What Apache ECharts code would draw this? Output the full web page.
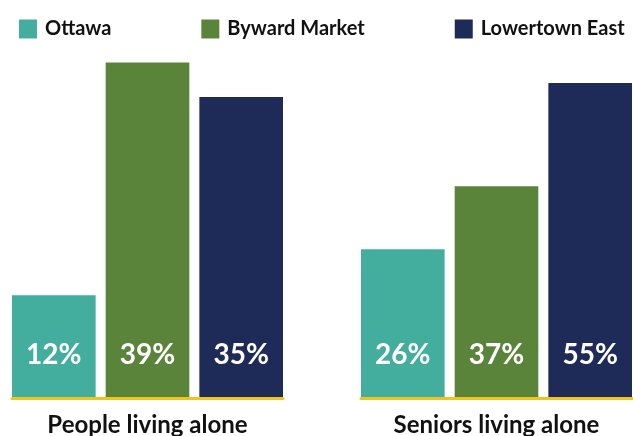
<!DOCTYPE html>
<html>
<head>
<meta charset="utf-8">
<script src="https://cdn.jsdelivr.net/npm/echarts@6/dist/echarts.min.js"></script>
<style>
html,body{margin:0;padding:0;background:#fff;}
#chart{width:633px;height:436px;}
</style>
</head>
<body>
<div id="chart"></div>
<script>
const seriesNames = ['Ottawa', 'Byward Market', 'Lowertown East'];
const groupPeople = ['People living alone'];
const groupSeniors = ['Seniors living alone'];
const peopleValues = [12, 39, 35];
const seniorsValues = [26, 37, 55];
const colors = ['#44ae9e', '#5a843a', '#1e2a57'];

const FONT = 'Lato';
const chart = echarts.init(document.getElementById('chart'));

const labelStyle = {
  show: true,
  position: 'insideBottom',
  distance: 30,
  color: '#ffffff',
  fontFamily: FONT,
  fontWeight: 'bold',
  fontSize: 28,
  formatter: p => p.value + '%'
};

const series = [];
seriesNames.forEach((name, i) => {
  series.push({
    name: name, type: 'bar', xAxisIndex: 0, yAxisIndex: 0,
    data: [peopleValues[i]],
    itemStyle: { color: colors[i] },
    barCategoryGap: '0%', barGap: '12%',
    label: labelStyle
  });
  series.push({
    name: name, type: 'bar', xAxisIndex: 1, yAxisIndex: 1,
    data: [seniorsValues[i]],
    itemStyle: { color: colors[i] },
    barCategoryGap: '0%', barGap: '12%',
    label: labelStyle
  });
});

const xAxisBase = {
  type: 'category',
  z: 5,
  axisLine: { show: true, lineStyle: { color: '#f2c513', width: 3 } },
  axisTick: { show: false },
  axisLabel: { color: '#111111', fontFamily: FONT, fontWeight: 'bold', fontSize: 24, margin: 15 }
};
const yAxisBase = { type: 'value', min: 0, show: false, splitLine: { show: false } };

chart.setOption({
  animation: false,
  backgroundColor: '#ffffff',
  legend: {
    data: seriesNames,
    left: 14, top: 14,
    itemWidth: 18, itemHeight: 19, itemGap: 90,
    icon: 'rect',
    textStyle: { color: '#111111', fontFamily: FONT, fontWeight: 'bold', fontSize: 20, padding: [0, 0, 0, 3] }
  },
  grid: [
    { left: 12, width: 271, top: 60, bottom: 37.5, outerBoundsMode: 'none', containLabel: false },
    { left: 361, width: 271, top: 83, bottom: 37.5, outerBoundsMode: 'none', containLabel: false }
  ],
  xAxis: [
    Object.assign({}, xAxisBase, { gridIndex: 0, data: groupPeople }),
    Object.assign({}, xAxisBase, { gridIndex: 1, data: groupSeniors })
  ],
  yAxis: [
    Object.assign({}, yAxisBase, { gridIndex: 0, max: 39.3 }),
    Object.assign({}, yAxisBase, { gridIndex: 1, max: 55 })
  ],
  series: series
});
</script>
</body>
</html>
